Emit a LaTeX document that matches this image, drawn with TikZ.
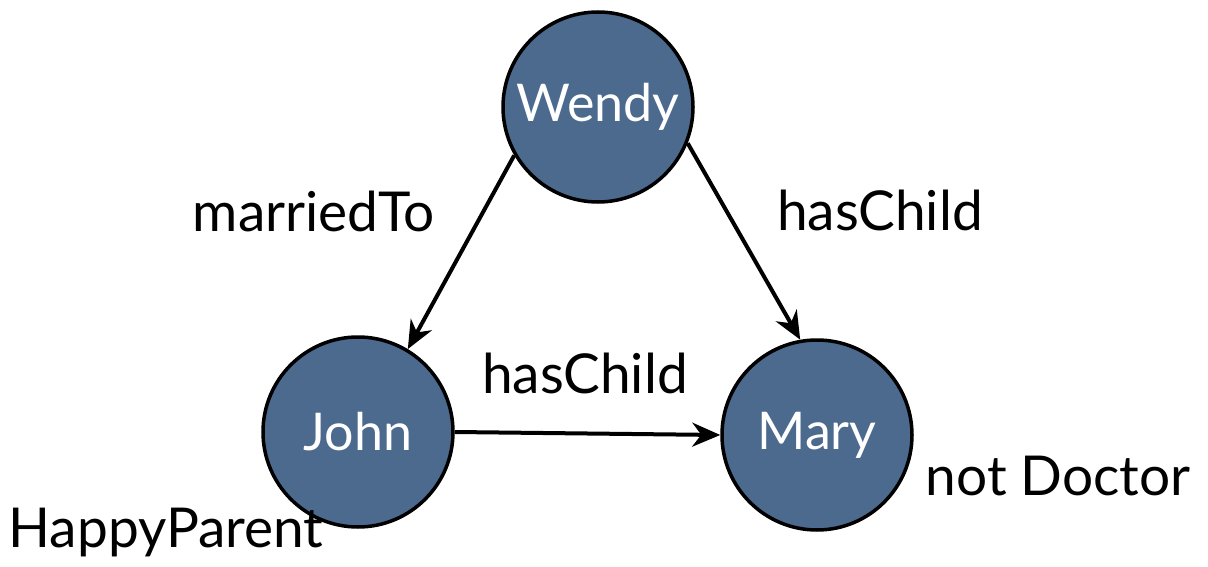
\documentclass[tikz,border=0pt]{standalone}
\usepackage{fontspec}
\setmainfont{Lato}
\usetikzlibrary{arrows.meta}
\definecolor{nodeblue}{HTML}{4B6A8E}
\tikzset{
  person/.style={circle, draw=black, line width=3.5pt, fill=nodeblue,
    minimum size=190pt, inner sep=0pt, text=white,
    font=\fontsize{52}{60}\selectfont},
  rel/.style={-{Stealth[length=28pt,width=24pt,inset=9pt]}, line width=4pt},
  lbl/.style={font=\fontsize{55}{64}\selectfont, text=black, inner sep=0pt}
}
\begin{document}
\begin{tikzpicture}[x=1pt,y=-1pt]
\useasboundingbox (0,0) rectangle (1208,567);
\node[person] (wendy) at (598,107) {Wendy};
\node[person] (john)  at (358,432) {John};
\node[person] (mary)  at (817,435) {Mary};

\draw[rel] (wendy.210) -- (john.59);
\draw[rel] (wendy.-22) -- (mary.100);
\draw[rel] (john.east) -- (mary.west);

\node[lbl] (married) at (314,211) {marriedTo};
\node[lbl] (hc1) at (880,210) {hasChild};
\node[lbl] (hc2) at (585,373) {hasChild};
\node[lbl] (notdoc) at (1058,476) {not Doctor};
\node[lbl] (happy) at (166,533) {HappyParent};
\end{tikzpicture}
\end{document}
